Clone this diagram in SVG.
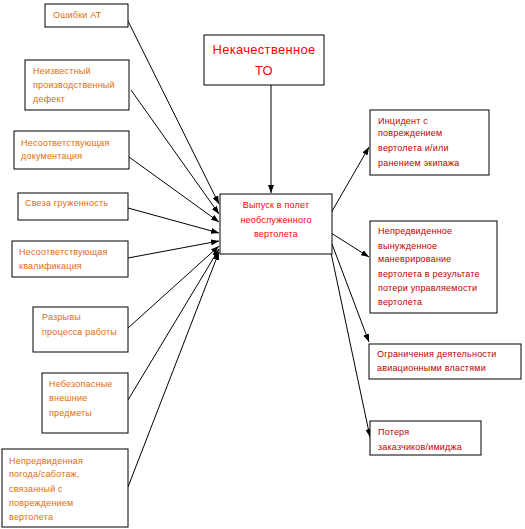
<svg xmlns="http://www.w3.org/2000/svg" width="525" height="529" viewBox="0 0 525 529">
<defs>
<marker id="ah" markerWidth="8" markerHeight="6" refX="8" refY="3" orient="auto" markerUnits="userSpaceOnUse">
<path d="M0,0 L8,3 L0,6 z" fill="#000"/>
</marker>
<style>
.box{fill:#fff;stroke:#000;stroke-width:1}
.t{font-family:"Liberation Sans",Arial,sans-serif;font-size:9px;letter-spacing:0.2px}
.o{fill:#e46c0a}
.r{fill:#ff0000}
.dr{fill:#c00000}
.big{font-size:13px;letter-spacing:0.3px}
.c{stroke:#000;stroke-width:1;fill:none;marker-end:url(#ah)}
</style>
</defs>
<rect width="525" height="529" fill="#fff"/>
<g id="connectors">
<line class="c" x1="271" y1="85" x2="271" y2="193"/>
<line class="c" x1="128" y1="21" x2="219" y2="204"/>
<line class="c" x1="131" y1="90" x2="219" y2="214"/>
<line class="c" x1="129" y1="157" x2="219" y2="222"/>
<line class="c" x1="128" y1="208" x2="219" y2="233"/>
<line class="c" x1="128" y1="258" x2="219" y2="241"/>
<line class="c" x1="128" y1="328" x2="219" y2="246"/>
<line class="c" x1="128" y1="400" x2="219" y2="249"/>
<line class="c" x1="128" y1="487" x2="219" y2="252"/>
<line class="c" x1="331" y1="213" x2="369" y2="147"/>
<line class="c" x1="331" y1="233" x2="369" y2="257"/>
<line class="c" x1="332" y1="244" x2="369" y2="342"/>
<line class="c" x1="330" y1="248" x2="370" y2="437"/>
</g>
<g id="n_top">
<rect class="box" x="204" y="35" width="120" height="50"/>
<text class="t big r" x="264" y="54" text-anchor="middle">Некачественное</text>
<text class="t big r" x="264" y="75" text-anchor="middle">ТО</text>
</g>
<g id="n_center">
<rect class="box" x="220" y="194" width="112" height="60"/>
<text class="t r" x="276" y="208" text-anchor="middle">Выпуск в полет</text>
<text class="t r" x="276" y="223" text-anchor="middle">необслуженного</text>
<text class="t r" x="276" y="237" text-anchor="middle">вертолета</text>
</g>
<g id="n_l1">
<rect class="box" x="45" y="4" width="83" height="23"/>
<text class="t o" x="53" y="18">Ошибки АТ</text>
</g>
<g id="n_l2">
<rect class="box" x="25" y="60" width="104" height="50"/>
<text class="t o" x="33" y="74">Неизвестный</text>
<text class="t o" x="33" y="88">производственный</text>
<text class="t o" x="33" y="102">дефект</text>
</g>
<g id="n_l3">
<rect class="box" x="14" y="131" width="115" height="38"/>
<text class="t o" x="21" y="146">Несоответствующая</text>
<text class="t o" x="21" y="159">документация</text>
</g>
<g id="n_l4">
<rect class="box" x="18" y="193" width="110" height="27"/>
<text class="t o" x="25" y="206">Свеза груженность</text>
</g>
<g id="n_l5">
<rect class="box" x="12" y="241" width="116" height="36"/>
<text class="t o" x="19" y="255">Несоответствующая</text>
<text class="t o" x="19" y="269">квалификация</text>
</g>
<g id="n_l6">
<rect class="box" x="33" y="307" width="95" height="45"/>
<text class="t o" x="42" y="320">Разрывы</text>
<text class="t o" x="42" y="335">процесса  работы</text>
</g>
<g id="n_l7">
<rect class="box" x="42" y="373" width="86" height="60"/>
<text class="t o" x="49" y="387">Небезопасные</text>
<text class="t o" x="49" y="401">внешние</text>
<text class="t o" x="49" y="416">предметы</text>
</g>
<g id="n_l8">
<rect class="box" x="2" y="449" width="126" height="78"/>
<text class="t o" x="9" y="464">Непредвиденная</text>
<text class="t o" x="9" y="477">погода/саботаж,</text>
<text class="t o" x="9" y="492">связанный с</text>
<text class="t o" x="9" y="506">повреждением</text>
<text class="t o" x="9" y="520">вертолета</text>
</g>
<g id="n_r1">
<rect class="box" x="370" y="110" width="119" height="65"/>
<text class="t dr" x="378" y="124">Инцидент с</text>
<text class="t dr" x="378" y="136">повреждением</text>
<text class="t dr" x="378" y="151">вертолета  и/или</text>
<text class="t dr" x="378" y="166">ранением экипажа</text>
</g>
<g id="n_r2">
<rect class="box" x="370" y="221" width="127" height="92"/>
<text class="t dr" x="378" y="234">Непредвиденное</text>
<text class="t dr" x="378" y="249">вынужденное</text>
<text class="t dr" x="378" y="262">маневрирование</text>
<text class="t dr" x="378" y="277">вертолета  в  результате</text>
<text class="t dr" x="378" y="291">потери управляемости</text>
<text class="t dr" x="378" y="305">вертолета</text>
</g>
<g id="n_r3">
<rect class="box" x="369" y="344" width="152" height="35"/>
<text class="t dr" x="377" y="357">Ограничения деятельности</text>
<text class="t dr" x="377" y="371">авиационными властями</text>
</g>
<g id="n_r4">
<rect class="box" x="370" y="421" width="111" height="34"/>
<text class="t dr" x="378" y="435">Потеря</text>
<text class="t dr" x="378" y="450">заказчиков/имиджа</text>
</g>
</svg>
